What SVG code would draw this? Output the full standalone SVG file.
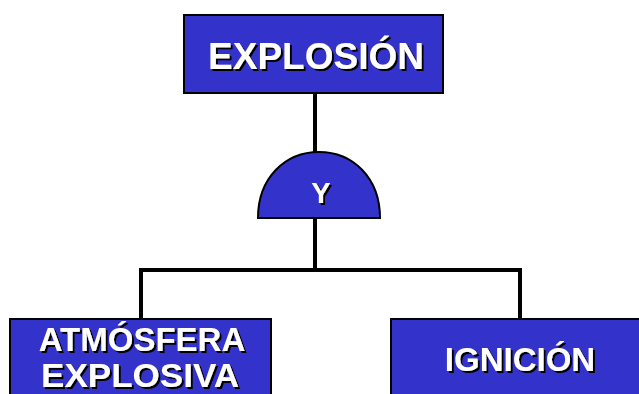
<svg xmlns="http://www.w3.org/2000/svg" width="639" height="394" viewBox="0 0 639 394">
<style>
.box{fill:#3333cc;stroke:#000;stroke-width:2}
.lbl{font-family:"Liberation Sans",Arial,sans-serif;font-weight:bold;fill:#fff;text-anchor:middle;filter:url(#sh)}
.wire{fill:none;stroke:#000;stroke-width:4}
</style>
<defs>
<filter id="sh" x="-10%" y="-20%" width="130%" height="150%">
<feDropShadow dx="2" dy="2" stdDeviation="0.3" flood-color="#000" flood-opacity="1"/>
</filter>
</defs>
<g id="connectors">
<path class="wire" d="M315,93 V153"/>
<path class="wire" d="M315,218 V270"/>
<path class="wire" d="M141,320 V270 H520 V320"/>
</g>
<g id="explosion">
<rect class="box" x="184" y="15" width="259" height="78"/>
<text class="lbl" x="316" y="69" font-size="37">EXPLOSIÓN</text>
</g>
<g id="gate-y">
<path class="box" d="M258,218 C258,178 285,152 319,152 C353,152 380,178 380,218 Z"/>
<text class="lbl" x="321" y="203" font-size="29">Y</text>
</g>
<g id="atmosfera">
<rect class="box" x="10" y="319" width="261" height="90"/>
<text class="lbl" x="142" y="351" font-size="33">ATMÓSFERA</text>
<text class="lbl" x="140" y="387" font-size="33" textLength="198" lengthAdjust="spacingAndGlyphs">EXPLOSIVA</text>
</g>
<g id="ignicion">
<rect class="box" x="391" y="319" width="260" height="90"/>
<text class="lbl" x="520" y="371" font-size="33">IGNICIÓN</text>
</g>
</svg>
